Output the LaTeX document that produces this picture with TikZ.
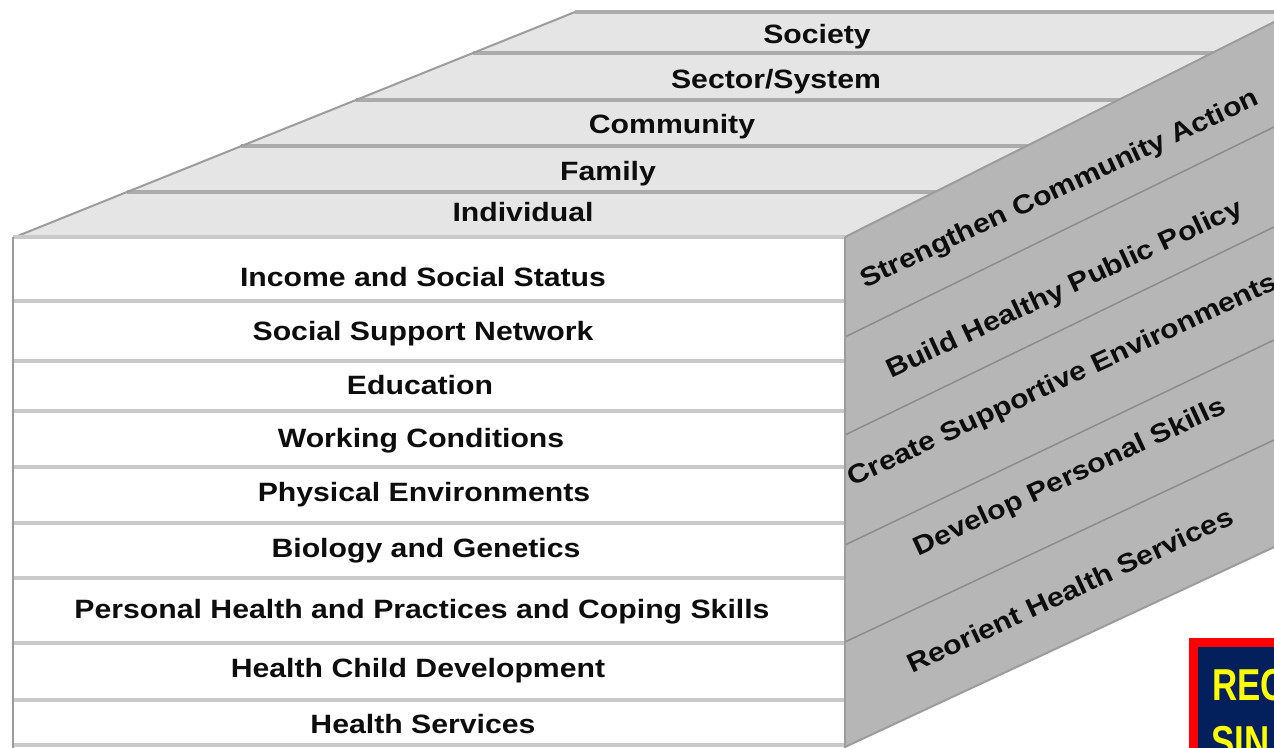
\documentclass[tikz,border=0pt]{standalone}
\usepackage{fontspec}
\setmainfont{Liberation Sans}[FakeStretch=1.14]
\newfontfamily\boxfont{Liberation Sans}[FakeStretch=0.78]
\definecolor{topfill}{HTML}{E5E5E5}
\definecolor{topline}{HTML}{ABABAB}
\definecolor{sidefill}{HTML}{B6B6B6}
\definecolor{sideline}{HTML}{8C8C8C}
\definecolor{frontline}{HTML}{C9C9C9}
\definecolor{edgegray}{HTML}{9C9C9C}
\definecolor{navy}{HTML}{04205C}
\definecolor{boxred}{HTML}{FF0000}
\definecolor{boxyellow}{HTML}{FFFF00}
\begin{document}
\begin{tikzpicture}[x=1pt,y=1pt,
  lbl/.style={font=\fontsize{26.5}{30}\selectfont\bfseries, text=black!95, inner sep=0pt, anchor=base},
  sidelbl/.style={font=\fontsize{26.5}{30}\selectfont\bfseries, text=black!95, inner sep=0pt, anchor=center, rotate=25},
  boxlbl/.style={font=\fontsize{44.7}{50}\boxfont\bfseries, text=boxyellow, inner sep=0pt, anchor=base west},
  topsep/.style={draw=topline, line width=3.5pt},
  frontsep/.style={draw=frontline, line width=4.5pt},
  sidesep/.style={draw=sideline, line width=1.5pt},
  edge/.style={draw=edgegray, line width=2.5pt}
]
\useasboundingbox (0,0) rectangle (1274,-747);
\clip (0,0) rectangle (1274,-747);

% top face
\fill[topfill] (15,-237) -- (575,-12) -- (1290,-12) -- (1290,-237) -- cycle;
\draw[topsep] (575,-12) -- (1290,-12);
\draw[topsep] (473,-53) -- (1290,-53);
\draw[topsep] (356,-100) -- (1290,-100);
\draw[topsep] (241,-146) -- (1290,-146);
\draw[topsep] (127,-192) -- (1290,-192);
\draw[edge, line width=2pt] (15,-237) -- (575,-12);

% front face
\fill[white] (13,-237) rectangle (845,-760);
\foreach \yy in {237,301,361,411,467,523,578,643,700,745}
  \draw[frontsep] (13,-\yy) -- (845,-\yy);
\draw[edge] (13,-237) -- (13,-760);

% right face
\fill[sidefill] (845,-237) -- (1300,-9) -- (1300,-535) -- (845,-747) -- cycle;
\draw[sidesep] (845,-337) -- (1274,-127);
\draw[sidesep] (845,-435) -- (1274,-227);
\draw[sidesep] (845,-545) -- (1274,-340);
\draw[sidesep] (845,-642) -- (1274,-440);
\draw[edge, line width=2pt] (845,-237) -- (1300,-9);
\draw[edge, line width=2pt] (845,-747) -- (1300,-535);
\draw[edge] (845,-237) -- (845,-760);

% top labels
\node[lbl] (society) at (817,-43) {Society};
\node[lbl] (sector) at (776,-88) {Sector/System};
\node[lbl] (community) at (672,-133) {Community};
\node[lbl] (family) at (608,-180) {Family};
\node[lbl] (individual) at (523,-221) {Individual};

% front labels
\node[lbl] (income) at (423,-286) {Income and Social Status};
\node[lbl] (support) at (423,-340) {Social Support Network};
\node[lbl] (education) at (420,-394) {Education};
\node[lbl] (working) at (421,-447) {Working Conditions};
\node[lbl] (physical) at (424,-501) {Physical Environments};
\node[lbl] (biology) at (426,-557) {Biology and Genetics};
\node[lbl] (personal) at (422,-618) {Personal Health and Practices and Coping Skills};
\node[lbl] (child) at (418,-677) {Health Child Development};
\node[lbl] (services) at (423,-733) {Health Services};

% side labels
\node[sidelbl] (strengthen) at (1060,-190) {Strengthen Community Action};
\node[sidelbl] (build) at (1065,-290) {Build Healthy Public Policy};
\node[sidelbl] (create) at (1063,-381) {Create Supportive Environments};
\node[sidelbl] (develop) at (1070,-478) {Develop Personal Skills};
\node[sidelbl] (reorient) at (1070,-590) {Reorient Health Services};

% red box
\fill[boxred] (1189,-638) rectangle (1300,-760);
\fill[navy] (1198,-647) rectangle (1300,-760);
\node[boxlbl] (rec) at (1212,-700) {REC};
\node[boxlbl] (sin) at (1211,-757) {SIN};
\end{tikzpicture}
\end{document}
